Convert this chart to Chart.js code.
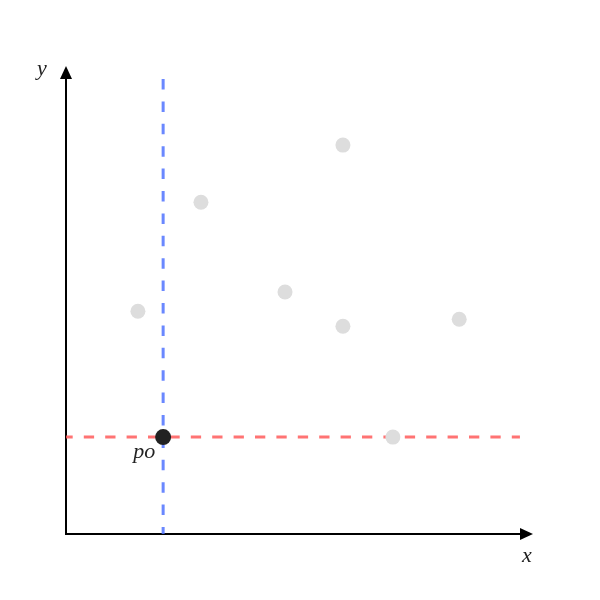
<!DOCTYPE html>
<html>
<head>
<meta charset="utf-8">
<script src="https://cdn.jsdelivr.net/npm/chart.js@4/dist/chart.umd.min.js"></script>
<style>
    html, body { margin: 0; padding: 0; background: #fff; }
    #wrap { width: 600px; height: 600px; }
</style>
</head>
<body>
<div id="wrap"><canvas id="chart"></canvas></div>
<script>
// points (axis units 0..10)
const otherX = [1.54, 2.89, 5.93, 4.69, 5.93, 8.42, 7.0];
const otherY = [4.76, 7.09, 8.31, 5.17, 4.44, 4.59, 2.07];
const p0 = { x: 2.08, y: 2.07 };
const p0Label = 'po';
const guideEnd = 9.72;
const axisMax = 10;

// axes with arrows + labels
const axesPlugin = {
    id: 'axes',
    beforeDatasetsDraw(chart) {
        const ctx = chart.ctx;
        const xs = chart.scales.x, ys = chart.scales.y;
        const ox = xs.getPixelForValue(0), oy = ys.getPixelForValue(0);
        const ex = xs.getPixelForValue(axisMax), ey = ys.getPixelForValue(axisMax);
        ctx.save();
        ctx.strokeStyle = '#000';
        ctx.fillStyle = '#000';
        ctx.lineWidth = 2;
        ctx.beginPath();
        ctx.moveTo(ox - 1, oy);
        ctx.lineTo(ex - 10, oy);
        ctx.moveTo(ox, oy + 1);
        ctx.lineTo(ox, ey + 10);
        ctx.stroke();
        // arrow heads
        ctx.beginPath();
        ctx.moveTo(ex, oy);
        ctx.lineTo(ex - 13, oy - 6);
        ctx.lineTo(ex - 13, oy + 6);
        ctx.closePath();
        ctx.fill();
        ctx.beginPath();
        ctx.moveTo(ox, ey);
        ctx.lineTo(ox - 6, ey + 13);
        ctx.lineTo(ox + 6, ey + 13);
        ctx.closePath();
        ctx.fill();
        ctx.restore();
    },
    afterDatasetsDraw(chart) {
        const ctx = chart.ctx;
        const xs = chart.scales.x, ys = chart.scales.y;
        ctx.save();
        ctx.fillStyle = '#222';
        ctx.font = 'italic 22px "Liberation Serif", "DejaVu Serif", serif';
        ctx.textAlign = 'center';
        ctx.textBaseline = 'middle';
        ctx.fillText('x', xs.getPixelForValue(axisMax) - 6, ys.getPixelForValue(0) + 22);
        ctx.fillText('y', xs.getPixelForValue(0) - 24, ys.getPixelForValue(axisMax) + 3);
        ctx.fillText(p0Label, xs.getPixelForValue(p0.x) - 19, ys.getPixelForValue(p0.y) + 15);
        ctx.restore();
    }
};

new Chart(document.getElementById('chart'), {
    type: 'scatter',
    data: {
        datasets: [{
            data: [p0],
            backgroundColor: '#222',
            borderColor: '#222',
            pointRadius: 8,
            borderWidth: 0,
            order: 0
        }, {
            data: otherX.map((x, i) => ({ x: x, y: otherY[i] })),
            backgroundColor: '#dddddd',
            borderColor: '#dddddd',
            pointRadius: 7.5,
            borderWidth: 0,
            order: 1
        }, {
            type: 'line',
            data: [{ x: p0.x, y: 0 }, { x: p0.x, y: guideEnd }],
            borderColor: 'rgba(80, 115, 255, 0.85)',
            borderWidth: 3,
            borderDash: [10.5, 11.9],
            borderDashOffset: 3.5,
            pointRadius: 0,
            order: 2
        }, {
            type: 'line',
            data: [{ x: 0, y: p0.y }, { x: guideEnd, y: p0.y }],
            borderColor: 'rgba(255, 90, 90, 0.85)',
            borderWidth: 3,
            borderDash: [10.3, 11.1],
            borderDashOffset: 3.6,
            pointRadius: 0,
            order: 3
        }]
    },
    options: {
        responsive: true,
        maintainAspectRatio: false,
        animation: false,
        layout: { padding: { left: 66, right: 67, top: 66, bottom: 66 } },
        plugins: { legend: { display: false }, tooltip: { enabled: false } },
        scales: {
            x: { type: 'linear', min: 0, max: axisMax, display: false },
            y: { type: 'linear', min: 0, max: axisMax, display: false }
        }
    },
    plugins: [axesPlugin]
});
</script>
</body>
</html>
